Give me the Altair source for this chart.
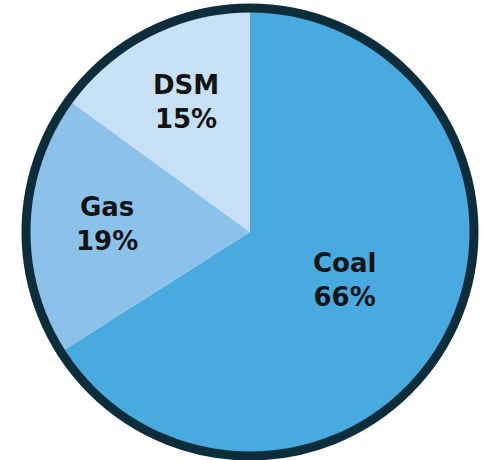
import altair as alt
import pandas as pd

sources = ["Coal", "Gas", "DSM"]
shares = [66, 19, 15]
colors = ["#48AADF", "#8CC2EA", "#C8E0F4"]

df = pd.DataFrame({"source": sources, "share": shares, "idx": list(range(len(sources)))})

CX, CY, R, BW = 250, 232, 224, 9

slices = alt.Chart(df).mark_arc(radius=R, stroke=None).encode(
    theta=alt.Theta("share:Q", stack=True),
    order=alt.Order("idx:Q"),
    color=alt.Color("source:N", scale=alt.Scale(domain=sources, range=colors), legend=None),
    x=alt.value(CX),
    y=alt.value(CY),
)

labels = alt.Chart(df).transform_window(
    cum="sum(share)", sort=[alt.SortField("idx")], frame=[None, 0]
).transform_joinaggregate(
    total="sum(share)"
).transform_calculate(
    mid="(datum.cum - datum.share / 2) / datum.total * 2 * PI",
    label="[datum.source, datum.share + '%']",
    r="datum.source == 'Coal' ? 108 : (datum.source == 'Gas' ? 143 : 141)",
).mark_text(
    font="DejaVu Sans", fontWeight="bold", fontSize=26, color="#141414",
    lineHeight=34, baseline="middle", align="center", dy=-20,
).encode(
    text=alt.Text("label:N"),
    theta=alt.Theta("mid:Q", scale=None, stack=None),
    radius=alt.Radius("r:Q", scale=None),
    x=alt.value(CX),
    y=alt.value(CY),
)

border = alt.Chart(pd.DataFrame({"v": [1]})).mark_arc(
    radius=R, theta=0, theta2=6.2832, fill=None, fillOpacity=0, stroke="#0D2D3A", strokeWidth=BW
).encode(
    x=alt.value(CX),
    y=alt.value(CY),
)

chart = alt.layer(slices, labels, border).resolve_scale(theta="independent").properties(
    width=483, height=460, padding=0, autosize=alt.AutoSizeParams(type="none")
).configure_view(stroke=None)

chart.save("out.html", embed_options={"renderer": "svg", "actions": False})
